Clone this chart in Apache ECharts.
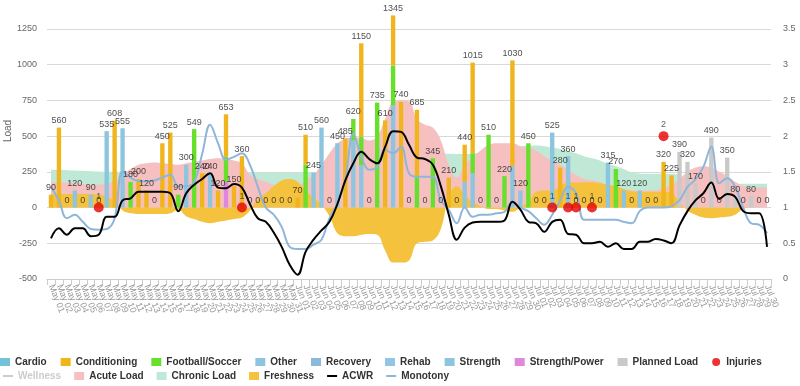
<!DOCTYPE html>
<html><head><meta charset="utf-8">
<script src="https://cdn.jsdelivr.net/npm/echarts@6/dist/echarts.min.js"></script>
<style>html,body{margin:0;padding:0;background:#fff}#c{width:800px;height:386px}</style>
</head><body><div id="c"></div>
<script>
const categories = [
'May 01','May 02','May 03','May 04','May 05','May 06','May 07','May 08','May 09','May 10',
'May 11','May 12','May 13','May 14','May 15','May 16','May 17','May 18','May 19','May 20',
'May 21','May 22','May 23','May 24','May 25','May 26','May 27','May 28','May 29','May 30','May 31',
'Jun 01','Jun 02','Jun 03','Jun 04','Jun 05','Jun 06','Jun 07','Jun 08','Jun 09','Jun 10',
'Jun 11','Jun 12','Jun 13','Jun 14','Jun 15','Jun 16','Jun 17','Jun 18','Jun 19','Jun 20',
'Jun 21','Jun 22','Jun 23','Jun 24','Jun 25','Jun 26','Jun 27','Jun 28','Jun 29','Jun 30',
'Jul 01','Jul 02','Jul 03','Jul 04','Jul 05','Jul 06','Jul 07','Jul 08','Jul 09','Jul 10',
'Jul 11','Jul 12','Jul 13','Jul 14','Jul 15','Jul 16','Jul 17','Jul 18','Jul 19','Jul 20',
'Jul 21','Jul 22','Jul 23','Jul 24','Jul 25','Jul 26','Jul 27','Jul 28','Jul 29','Jul 30'];

const cardio = [];
const other = [];
const recovery = [];
const rehab = [];
const conditioning = [
90,560,0,0,0,0,0,0,608,0,
0,200,120,0,450,525,0,0,0,240,
0,120,298,150,360,0,0,0,0,0,
0,70,210,0,0,0,0,485,0,655,
0,0,610,350,740,0,470,0,0,0,
210,0,260,635,0,0,0,0,740,0,
0,0,0,0,280,0,0,0,0,0,
0,0,0,0,0,0,0,320,225,0,
0,0,0,0,0,0,0,0,0,0,
0];
const football = [
0,0,0,0,0,0,0,0,0,0,
180,0,0,0,0,0,90,0,549,0,
0,0,175,0,0,0,0,0,0,0,
0,0,300,0,0,0,0,0,150,200,
0,735,0,280,0,0,215,0,345,0,
0,0,0,140,0,510,0,220,0,0,
450,0,0,0,0,0,0,0,0,0,
0,270,0,0,0,0,0,0,0,0,
0,0,0,0,0,0,0,0,0,0,
0];
const strength = [
0,0,0,120,0,90,0,535,0,555,
0,0,0,0,0,0,0,300,0,0,
240,0,0,0,0,0,0,0,0,0,
0,0,0,245,560,0,450,0,470,295,
0,0,0,715,0,0,0,0,0,0,
0,0,180,240,0,0,0,0,290,120,
0,0,0,525,0,360,0,0,0,0,
315,0,120,0,120,0,0,0,0,0,
0,0,0,0,0,0,0,0,0,0,
0];
const strengthPower = [
0,0,0,0,0,0,0,0,0,0,
0,0,0,0,0,0,0,0,0,0,
0,0,180,0,0,0,0,0,0,0,
0,0,0,0,0,0,0,0,0,0,
0,0,0,0,0,0,0,0,0,0,
0,0,0,0,0,0,0,0,0,0,
0,0,0,0,0,0,0,0,0,0,
0,0,0,0,0,0,0,0,0,0,
0,0,0,0,0,0,0,0,0,0,
0];
const plannedLoad = [
0,0,0,0,0,0,0,0,0,0,
0,0,0,0,0,0,0,0,0,0,
0,0,0,0,0,0,0,0,0,0,
0,0,0,0,0,0,0,0,0,0,
0,0,0,0,0,0,0,0,0,0,
0,0,0,0,0,0,0,0,0,0,
0,0,0,0,0,0,0,0,0,0,
0,0,0,0,0,0,0,0,0,390,
320,170,0,490,0,350,80,0,80,0,
0];
const injuries = [
null,null,null,null,null,null,1,null,null,null,
null,null,null,null,null,null,null,null,null,null,
null,null,null,null,1,null,null,null,null,null,
null,null,null,null,null,null,null,null,null,null,
null,null,null,null,null,null,null,null,null,null,
null,null,null,null,null,null,null,null,null,null,
null,null,null,1,null,1,1,null,1,null,
null,null,null,null,null,null,null,2,null,null,
null,null,null,null,null,null,null,null,null,null,
null];
const wellness = [];
const acuteLoad = [
175,178,175,170,165,160,160,170,180,230,
270,300,310,315,310,305,300,310,320,330,
340,345,340,330,310,230,200,180,160,145,
140,150,190,230,300,380,450,480,490,485,
470,500,620,740,750,745,620,580,560,470,
300,210,300,350,400,440,450,450,450,430,
420,400,360,330,300,260,230,200,190,180,
150,140,130,120,120,120,120,140,160,200,
250,280,290,280,250,220,180,150,140,140,
140];
const chronicLoad = [
265,265,262,260,258,255,252,250,250,250,
250,252,255,255,255,255,255,255,255,255,
250,250,248,245,245,245,245,245,245,245,
245,245,245,245,250,260,270,285,300,315,
325,335,345,355,365,370,375,378,378,378,
376,375,375,378,385,390,400,410,420,428,
434,434,430,420,410,395,380,360,345,330,
305,290,270,245,238,236,236,236,236,225,
190,172,167,167,167,167,167,167,167,167,
167];
const freshness = [
90,95,95,95,95,95,90,80,40,-20,
-40,-45,-45,-45,-45,-40,-15,-60,-80,-100,
-110,-100,-90,-80,-70,-20,60,100,150,190,
200,180,120,70,20,-60,-180,-200,-200,-190,
-185,-190,-300,-385,-385,-370,-250,-240,-230,-150,
80,150,90,40,10,-10,-10,-20,-30,0,
40,110,120,120,150,175,175,178,178,170,
160,150,130,115,110,110,110,110,100,40,
-20,-50,-70,-75,-70,-65,-50,-10,0,0,
0];
const acwr = [
0.57,0.71,0.62,0.71,0.71,0.6,0.62,0.87,0.87,1.1,
1.13,1.22,1.22,1.22,1.22,1.2,0.95,1.2,1.32,1.4,
1.48,1.28,1.27,1.33,1.28,1.05,0.85,0.8,0.65,0.45,
0.2,0.06,0.38,0.55,0.68,0.8,1.05,1.38,1.62,1.78,
1.68,1.62,1.85,2.07,2.06,1.88,1.7,1.68,1.6,1.3,
0.9,0.55,0.72,0.79,0.8,0.8,0.8,0.82,1.08,0.97,
0.8,0.78,0.66,0.8,0.83,0.63,0.62,0.5,0.5,0.52,
0.45,0.5,0.42,0.42,0.52,0.52,0.56,0.54,0.5,0.75,
0.95,1.1,1.2,1.35,1.12,1.19,1.15,0.95,0.92,0.92,
0.45];
const monotony = [
1.29,1.1,0.85,0.9,0.8,0.7,0.69,0.7,0.85,1.5,
1.42,1.37,1.37,1.38,1.42,1.46,1.3,1.3,1.36,1.75,
2.16,1.9,1.67,1.71,1.76,1.6,1.29,1.0,0.9,0.73,
0.45,0.42,0.42,0.48,0.55,0.85,1.06,1.4,2.04,1.71,
1.53,1.57,1.81,1.76,1.85,1.48,1.43,1.43,1.43,1.1,
0.97,0.78,1.0,0.87,0.9,0.9,0.92,0.94,1.08,1.0,
0.95,0.85,0.76,0.9,1.1,1.29,1.2,0.83,0.83,0.83,
0.83,0.83,0.8,0.78,0.95,1.0,1.0,1.0,1.02,1.1,
1.29,1.39,1.57,1.85,1.34,1.41,1.29,1.0,0.78,0.76,
0.64];
const loadTicks = {min: -500, max: 1250, interval: 250};
const ratioTicks = {min: 0, max: 3.5, interval: 0.5};

const barNames = ['Cardio','Conditioning','Football/Soccer','Other','Recovery','Rehab','Strength','Strength/Power','Planned Load'];
const barData = {'Cardio':cardio,'Conditioning':conditioning,'Football/Soccer':football,'Other':other,'Recovery':recovery,'Rehab':rehab,'Strength':strength,'Strength/Power':strengthPower,'Planned Load':plannedLoad};
const barColors = {'Cardio':'#72c2d9','Conditioning':'#f0b41c','Football/Soccer':'#66e02a','Other':'#8ec4e2','Recovery':'#8bb9dc','Rehab':'#94c4e3','Strength':'#8ec5de','Strength/Power':'#dd88dd','Planned Load':'#c9c9c9'};
const totals = categories.map((_, i) => barNames.reduce((s, n) => s + (barData[n][i] || 0), 0));

const font = 'Arial, "Liberation Sans", sans-serif';
const series = [];
series.push({name:'Chronic Load', type:'line', data:chronicLoad, smooth:0.4, symbol:'none', lineStyle:{width:0}, itemStyle:{color:'#bfe9d6'}, areaStyle:{color:'#bfe9d6', opacity:1}, z:1});
series.push({name:'Acute Load', type:'line', data:acuteLoad, smooth:0.4, symbol:'none', lineStyle:{width:0}, itemStyle:{color:'#f6c0c0'}, areaStyle:{color:'#f6c0c0', opacity:1}, z:1});
series.push({name:'Freshness', type:'line', data:freshness, smooth:0.4, symbol:'none', lineStyle:{width:0}, itemStyle:{color:'#f5c23e'}, areaStyle:{color:'#f5c23e', opacity:1}, z:1});
barNames.slice().reverse().forEach(n => {
  series.push({name:n, type:'bar', stack:'load', data:barData[n], barWidth:'55%', clip:false, itemStyle:{color:barColors[n]}, z:2});
});
series.push({name:'Wellness', type:'line', data:wellness, yAxisIndex:1, symbol:'none', itemStyle:{color:'#bbbbbb'}, lineStyle:{color:'#bbbbbb', width:2}});
series.push({name:'ACWR', type:'line', data:acwr, yAxisIndex:1, smooth:0.4, symbol:'none', itemStyle:{color:'#000'}, lineStyle:{color:'#000', width:2}, z:4});
series.push({name:'Monotony', type:'line', data:monotony, yAxisIndex:1, smooth:0.4, symbol:'none', itemStyle:{color:'#8fb6d9'}, lineStyle:{color:'#8fb6d9', width:2}, z:3});
series.push({name:'Total', type:'scatter', data:totals, symbolSize:1, clip:false, silent:true, itemStyle:{color:'rgba(0,0,0,0)'},
  label:{show:true, position:'top', distance:2, fontSize:9, fontFamily:font, color:'#222', formatter:p => p.value}, z:6});
series.push({name:'Injuries', type:'scatter', data:injuries, yAxisIndex:1, symbol:'circle', symbolSize:10, clip:false, itemStyle:{color:'#e60000'},
  label:{show:true, position:'top', distance:2, fontSize:9, fontFamily:font, color:'#333', formatter:p => p.value}, z:7});

const legendText = {fontSize:10, fontWeight:'bold', color:'#333', fontFamily:font};
const lineIcon = 'path://M0,0 L10,0 L10,2 L0,2 Z';
const option = {
  animation:false,
  backgroundColor:'#fff',
  grid:{left:47, right:29, top:29, bottom:107, outerBoundsMode:'none', containLabel:false},
  legend:[
    {left:0, top:357, padding:0, itemWidth:10, itemHeight:8, itemGap:14, textStyle:legendText,
     data:barNames.map(n => ({name:n, icon:'rect'})).concat([{name:'Injuries', icon:'circle'}])},
    {left:3, top:371, padding:0, itemWidth:10, itemHeight:8, itemGap:13, textStyle:legendText, inactiveColor:'#cccccc',
     selected:{'Wellness':false},
     data:[{name:'Wellness', icon:lineIcon},{name:'Acute Load', icon:'rect'},{name:'Chronic Load', icon:'rect'},{name:'Freshness', icon:'rect'},{name:'ACWR', icon:lineIcon},{name:'Monotony', icon:lineIcon}]}
  ],
  xAxis:{type:'category', data:categories, boundaryGap:true,
    axisLine:{onZero:false, lineStyle:{color:'#cccccc'}},
    axisTick:{show:true, length:6, lineStyle:{color:'#cccccc'}},
    axisLabel:{interval:0, rotate:-68, fontSize:9, color:'#999', fontFamily:font, margin:6}},
  yAxis:[
    {type:'value', min:loadTicks.min, max:loadTicks.max, interval:loadTicks.interval,
     name:'Load', nameLocation:'middle', nameGap:34, nameMoveOverlap:false,
     nameTextStyle:{fontSize:10, color:'#666', fontFamily:font, padding:[0,0,0,46]},
     axisLabel:{fontSize:9, color:'#666', fontFamily:font, margin:10, formatter:v => String(v)},
     axisLine:{show:false}, axisTick:{show:false}, splitLine:{lineStyle:{color:'#d9d9d9'}}},
    {type:'value', min:ratioTicks.min, max:ratioTicks.max, interval:ratioTicks.interval, position:'right',
     axisLabel:{fontSize:9, color:'#666', fontFamily:font, margin:12, formatter:v => String(v)},
     axisLine:{show:false}, axisTick:{show:false}, splitLine:{show:false}}
  ],
  series:series
};
const chart = echarts.init(document.getElementById('c'));
chart.setOption(option);
</script>
</body></html>
